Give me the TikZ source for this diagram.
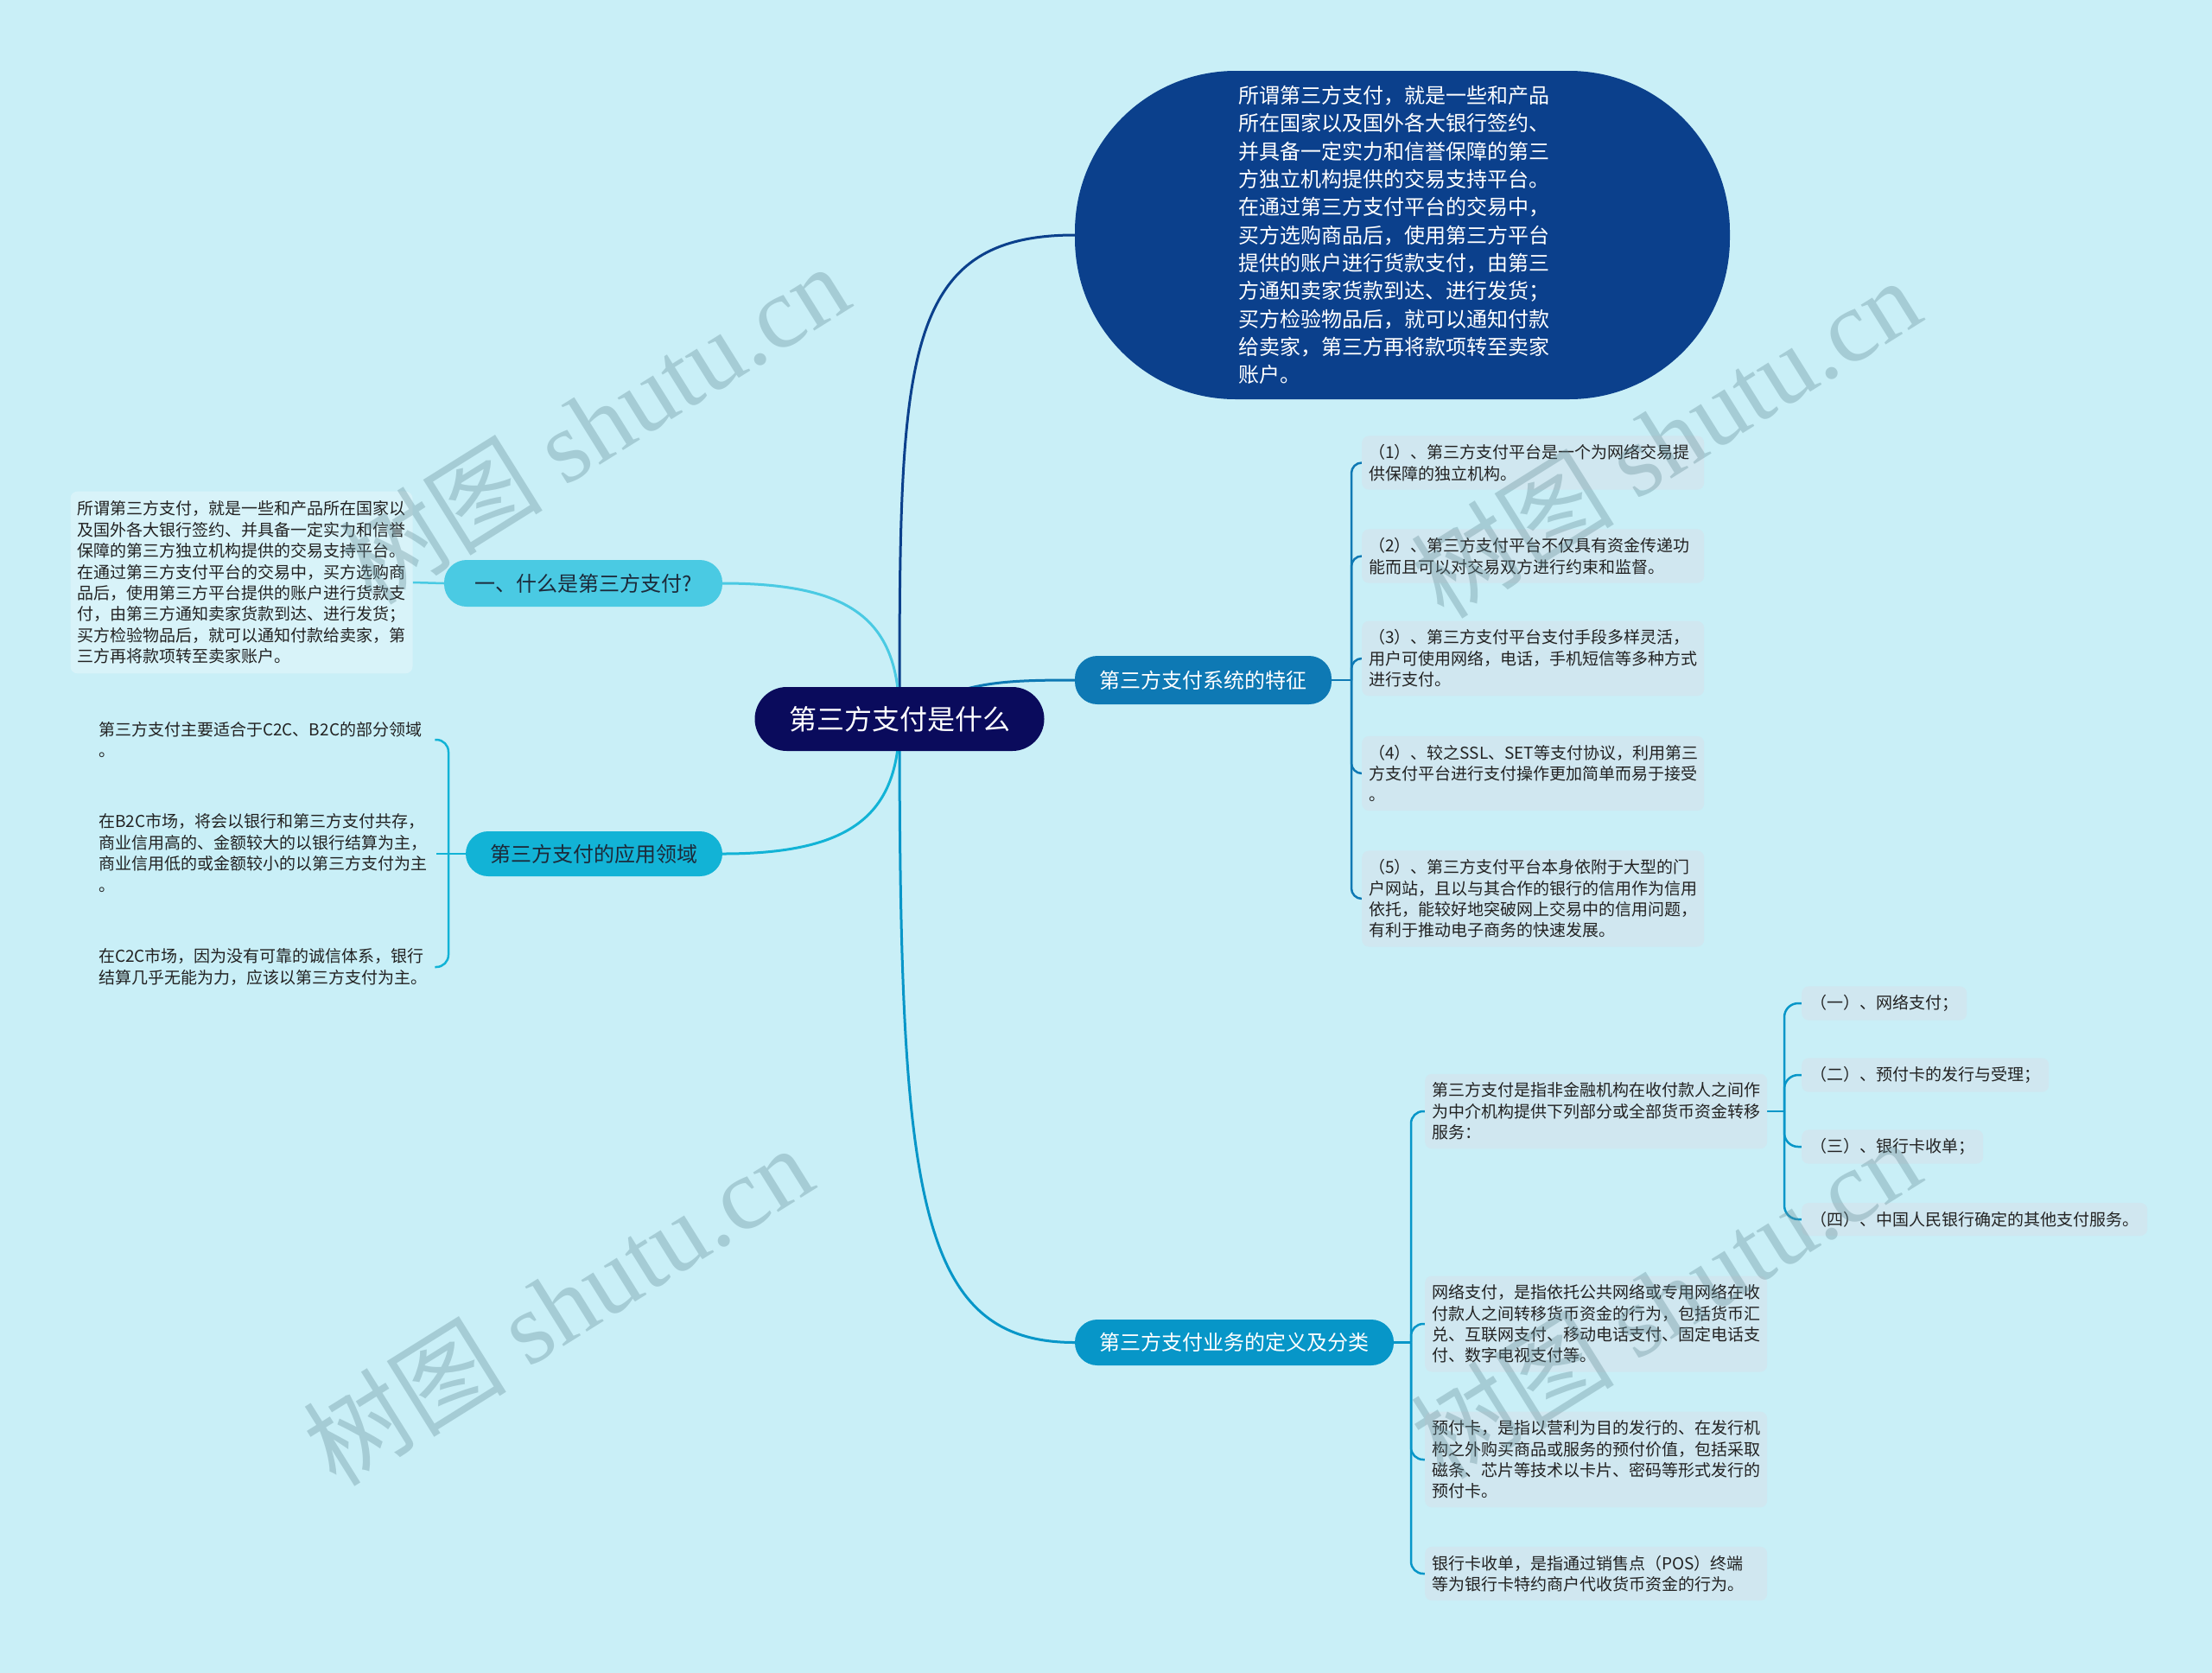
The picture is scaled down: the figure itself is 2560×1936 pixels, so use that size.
\documentclass[tikz,border=0pt]{standalone}
\usepackage{fontspec}
\setmainfont{Noto Sans CJK SC}
\newfontfamily\wmlatin{Liberation Serif}
\usetikzlibrary{backgrounds}
\definecolor{bgc}{HTML}{C9EFF7}
\definecolor{rootc}{HTML}{0A0B5C}
\definecolor{topc}{HTML}{0B408C}
\definecolor{featc}{HTML}{0E79B4}
\definecolor{defc}{HTML}{0796C8}
\definecolor{whatc}{HTML}{4ACAE3}
\definecolor{appc}{HTML}{12B3D6}
\definecolor{boxc}{HTML}{D0E7F0}
\definecolor{lboxc}{HTML}{D8F3F9}
\definecolor{txtc}{HTML}{222222}
\definecolor{darktxt}{HTML}{1C2A3A}
\definecolor{wmc}{HTML}{648C96}
\tikzset{
  rootnode/.style={fill=rootc, text=white, rounded corners=37pt, minimum width=335pt, minimum height=74pt, font=\fontsize{32}{38}\selectfont, inner sep=0pt},
  branch/.style={rounded corners=26pt, inner sep=0pt, font=\fontsize{24}{29}\selectfont},
  small/.style={font=\fontsize{19}{24.4}\selectfont, align=left, text=txtc, inner xsep=8pt, inner ysep=10pt},
  sbox/.style={small, fill=boxc, rounded corners=8pt},
  conn/.style={line width=3pt},
  sub/.style={line width=2.5pt},
  wm/.style={text=wmc, text opacity=0.35, rotate=32, font=\fontsize{118}{118}\selectfont},
}
\begin{document}
\begin{tikzpicture}[x=1pt,y=-1pt]
\useasboundingbox (0,0) rectangle (2560,1936);

% root and main branches
\node[rootnode] (root) at (1041,832) {第三方支付是什么};
\node[fill=topc, text=white, rounded corners=186pt, minimum width=758pt, minimum height=380pt, align=left, inner sep=0pt, font=\fontsize{24}{32.3}\selectfont] (top) at (1623,272) {所谓第三方支付，就是一些和产品\hspace*{20pt}\\所在国家以及国外各大银行签约、\\并具备一定实力和信誉保障的第三\\方独立机构提供的交易支持平台。\\在通过第三方支付平台的交易中，\\买方选购商品后，使用第三方平台\\提供的账户进行货款支付，由第三\\方通知卖家货款到达、进行发货；\\买方检验物品后，就可以通知付款\\给卖家，第三方再将款项转至卖家\\账户。};
\node[branch, fill=whatc, text=darktxt, minimum width=322pt, minimum height=54pt] (what) at (675,675) {一、什么是第三方支付?};
\node[branch, fill=appc, text=darktxt, minimum width=297pt, minimum height=52pt] (app) at (687.5,988) {第三方支付的应用领域};
\node[branch, fill=featc, text=white, minimum width=297pt, minimum height=56pt] (feat) at (1392.5,787) {第三方支付系统的特征};
\node[branch, fill=defc, text=white, minimum width=369pt, minimum height=53pt] (def) at (1428.5,1553.5) {第三方支付业务的定义及分类};

% left text box
\node[small, fill=lboxc, rounded corners=8pt, text width=380pt, inner ysep=11pt] (lbox) at (279.5,674) {所谓第三方支付，就是一些和产品所在国家以\\及国外各大银行签约、并具备一定实力和信誉\\保障的第三方独立机构提供的交易支持平台。\\在通过第三方支付平台的交易中，买方选购商\\品后，使用第三方平台提供的账户进行货款支\\付，由第三方通知卖家货款到达、进行发货；\\买方检验物品后，就可以通知付款给卖家，第\\三方再将款项转至卖家账户。};

% application items
\node[small, inner sep=0pt, text width=389pt, anchor=west] (c1) at (114,856) {第三方支付主要适合于C2C、B2C的部分领域\\。};
\node[small, inner sep=0pt, text width=389pt, anchor=west] (c2) at (114,987) {在B2C市场，将会以银行和第三方支付共存，\\商业信用高的、金额较大的以银行结算为主，\\商业信用低的或金额较小的以第三方支付为主\\。};
\node[small, inner sep=0pt, text width=389pt, anchor=west] (c3) at (114,1119) {在C2C市场，因为没有可靠的诚信体系，银行\\结算几乎无能为力，应该以第三方支付为主。};

% feature items
\node[sbox, text width=380pt, anchor=west] (f1) at (1576,535.5) {（1）、第三方支付平台是一个为网络交易提\\供保障的独立机构。};
\node[sbox, text width=380pt, anchor=west] (f2) at (1576,643.5) {（2）、第三方支付平台不仅具有资金传递功\\能而且可以对交易双方进行约束和监督。};
\node[sbox, text width=380pt, anchor=west] (f3) at (1576,762) {（3）、第三方支付平台支付手段多样灵活，\\用户可使用网络，电话，手机短信等多种方式\\进行支付。};
\node[sbox, text width=380pt, anchor=west] (f4) at (1576,895) {（4）、较之SSL、SET等支付协议，利用第三\\方支付平台进行支付操作更加简单而易于接受\\。};
\node[sbox, text width=380pt, anchor=west] (f5) at (1576,1040) {（5）、第三方支付平台本身依附于大型的门\\户网站，且以与其合作的银行的信用作为信用\\依托，能较好地突破网上交易中的信用问题，\\有利于推动电子商务的快速发展。};

% definition items
\node[sbox, text width=380pt, anchor=west] (dA) at (1649,1286) {第三方支付是指非金融机构在收付款人之间作\\为中介机构提供下列部分或全部货币资金转移\\服务：};
\node[sbox, text width=380pt, anchor=west] (dB) at (1649,1532) {网络支付，是指依托公共网络或专用网络在收\\付款人之间转移货币资金的行为，包括货币汇\\兑、互联网支付、移动电话支付、固定电话支\\付、数字电视支付等。};
\node[sbox, text width=380pt, anchor=west] (dC) at (1649,1689) {预付卡，是指以营利为目的发行的、在发行机\\构之外购买商品或服务的预付价值，包括采取\\磁条、芯片等技术以卡片、密码等形式发行的\\预付卡。};
\node[sbox, text width=380pt, anchor=west] (dD) at (1649,1821) {银行卡收单，是指通过销售点（POS）终端\\等为银行卡特约商户代收货币资金的行为。};

\node[sbox, inner xsep=10pt, anchor=west] (a1) at (2085,1161) {（一）、网络支付；};
\node[sbox, inner xsep=10pt, anchor=west] (a2) at (2085,1244) {（二）、预付卡的发行与受理；};
\node[sbox, inner xsep=10pt, anchor=west] (a3) at (2085,1327) {（三）、银行卡收单；};
\node[sbox, inner xsep=10pt, anchor=west] (a4) at (2085,1411) {（四）、中国人民银行确定的其他支付服务。};

% junction coordinates
\coordinate (fj) at (1564,787);
\coordinate (dj) at (1633,1553.5);
\coordinate (aj) at (2065,1286);
\coordinate (cj) at (519,988);

\begin{scope}[on background layer]
\fill[bgc] (0,0) rectangle (2560,1936);
% root connectors
\draw[conn, draw=topc] (root.center) .. controls (1041,420) and (1041,272) .. (top.west);
\draw[conn, draw=featc] (root.center) .. controls (1110,790) and (1150,787) .. (feat.west);
\draw[conn, draw=defc] (root.center) .. controls (1041,1380) and (1060,1553.5) .. (def.west);
\draw[conn, draw=whatc] (root.center) .. controls (1041,720) and (990,675) .. (what.east);
\draw[conn, draw=appc] (root.center) .. controls (1041,940) and (990,988) .. (app.east);
% what -> text box
\draw[sub, draw=whatc] (what.west) -- (lbox.east);
% app items
\draw[sub, draw=appc] (app.west) -- (cj) -- (505,988);
\draw[sub, draw=appc, rounded corners=14pt] (cj) |- (c1.east);
\draw[sub, draw=appc, rounded corners=14pt] (cj) |- (c3.east);
% feat items
\draw[sub, draw=featc] (feat.east) -- (fj);
\foreach \n in {f1,f2,f3,f4,f5} \draw[sub, draw=featc, rounded corners=12pt] (fj) |- (\n.west);
% def items
\draw[sub, draw=defc] (def.east) -- (dj);
\foreach \n in {dA,dB,dC,dD} \draw[sub, draw=defc, rounded corners=14pt] (dj) |- (\n.west);
% A items
\draw[sub, draw=defc] (dA.east) -- (aj);
\foreach \n in {a1,a2,a3,a4} \draw[sub, draw=defc, rounded corners=16pt] (aj) |- (\n.west);
\end{scope}

% watermarks
\node[wm] (wm1) at (687,490) {树图 {\wmlatin shutu.cn}};
\node[wm] (wm2) at (1927,506) {树图 {\wmlatin shutu.cn}};
\node[wm] (wm3) at (645,1510) {树图 {\wmlatin shutu.cn}};
\node[wm] (wm4) at (1927,1502) {树图 {\wmlatin shutu.cn}};
\end{tikzpicture}
\end{document}
